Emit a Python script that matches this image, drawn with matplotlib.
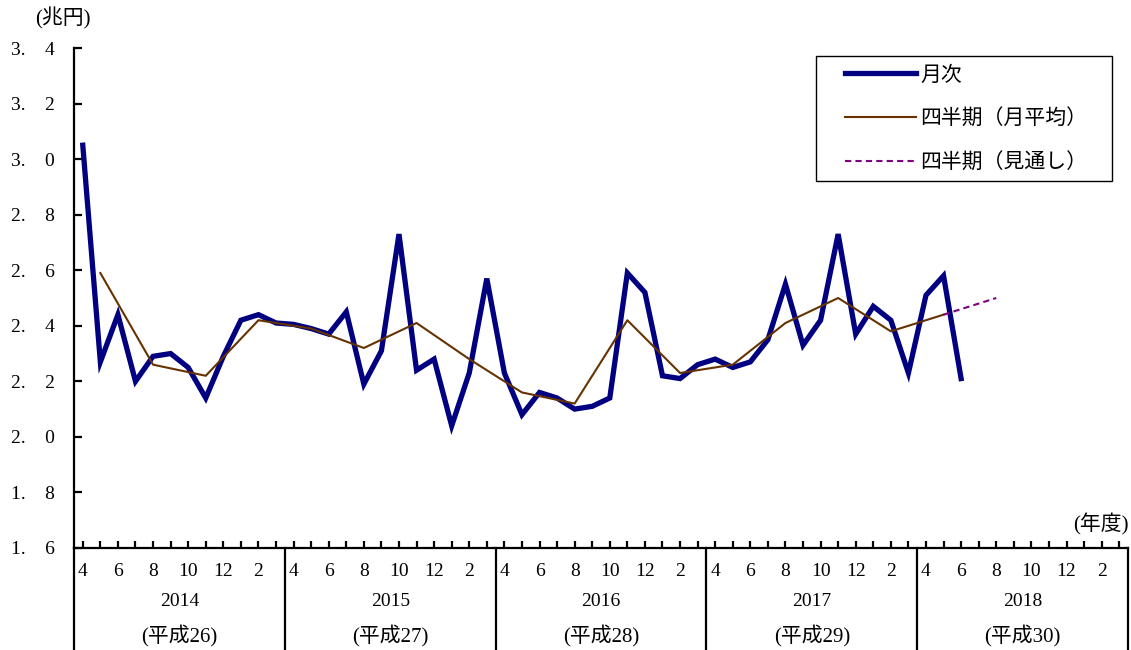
import matplotlib
matplotlib.use('Agg')
import matplotlib.pyplot as plt
import matplotlib.transforms as mtransforms
from matplotlib.patches import Rectangle

plt.rcParams['font.family'] = ['Liberation Serif', 'Noto Sans CJK JP']

# monthly values, fiscal 2014 April .. 2018 June (trillion yen)
monthly = [3.05, 2.27, 2.44, 2.20, 2.29, 2.30, 2.25, 2.14, 2.29, 2.42, 2.44, 2.41,
           2.405, 2.39, 2.37, 2.45, 2.19, 2.31, 2.73, 2.24, 2.28, 2.04, 2.23, 2.57,
           2.23, 2.08, 2.16, 2.14, 2.10, 2.11, 2.14, 2.59, 2.52, 2.22, 2.21, 2.26,
           2.28, 2.25, 2.27, 2.35, 2.55, 2.33, 2.42, 2.73, 2.37, 2.47, 2.42, 2.23,
           2.51, 2.58, 2.21]
# quarterly monthly-average, plotted at the middle month of each quarter
quarterly = [2.59, 2.26, 2.22, 2.42, 2.39, 2.32, 2.41, 2.28, 2.16, 2.12, 2.42,
             2.23, 2.26, 2.41, 2.50, 2.38, 2.44]
quarter_pos = [1, 4, 7, 10, 13, 16, 19, 22, 25, 28, 31, 34, 37, 40, 43, 46, 49]
# outlook
forecast = [2.44, 2.50]
forecast_pos = [49, 52]

month_ticks = ['4', '6', '8', '10', '12', '2']
fiscal_years = ['2014', '2015', '2016', '2017', '2018']
heisei = ['(平成26)', '(平成27)', '(平成28)', '(平成29)', '(平成30)']
y_ticks = [1.6, 1.8, 2.0, 2.2, 2.4, 2.6, 2.8, 3.0, 3.2, 3.4]

fig = plt.figure(figsize=(11.31, 6.5), dpi=100)
W, H = 1131, 650
ax = fig.add_axes([74 / W, (H - 548) / H, 1054 / W, 500 / H])

ax.plot(range(len(monthly)), monthly, color='#000080', lw=3.8,
        solid_joinstyle='miter', label='月次', zorder=3)
ax.plot(quarter_pos, quarterly, color='#663300', lw=1.5, label='四半期（月平均）', zorder=4)
ax.plot(forecast_pos, forecast, color='#800080', lw=1.5, ls=(0, (3, 2)),
        label='四半期（見通し）', zorder=4)

ax.set_xlim(-0.5, 59.5)
ax.set_ylim(1.6, 3.4)

for s in ['top', 'right']:
    ax.spines[s].set_visible(False)
ax.spines['left'].set_linewidth(1.6)
ax.spines['bottom'].set_linewidth(1.6)

ax.set_yticks(y_ticks)
ax.set_yticklabels([f'{v:.1f}'.replace('.', '.\u2002\u2002') for v in y_ticks], fontsize=14)
ax.tick_params(axis='y', direction='in', length=6, width=1.6, pad=14)
ax.set_xticks(range(60))
ax.set_xticklabels([])
ax.tick_params(axis='x', direction='in', length=5, width=1.6)

# table of month / year labels below the axis
trans = mtransforms.blended_transform_factory(ax.transData, ax.transAxes)
bottom = -(H - 548) / 500 - 0.01
for k in range(6):
    x = -0.5 + 12 * k
    ax.plot([x, x], [0, bottom], color='black', lw=1.6, transform=trans, clip_on=False)
for k, fy in enumerate(fiscal_years):
    for j, m in enumerate(month_ticks):
        ax.text(12 * k + 2 * j, -0.048, m, transform=trans, ha='center', va='center', fontsize=14)
    ax.text(12 * k + 5.5, -0.108, fy, transform=trans, ha='center', va='center', fontsize=14)
    ax.text(12 * k + 5.5, -0.176, heisei[k], transform=trans, ha='center', va='center', fontsize=15)

fig.text(35 / W, 1 - 18 / H, '(兆円)', ha='left', va='center', fontsize=15)
fig.text(1129 / W, 1 - 524 / H, '(年度)', ha='right', va='center', fontsize=15)

# legend box drawn separately so its padding can be set on each side
ax.add_patch(Rectangle((816 / W, 1 - 181 / H), 296 / W, 125 / H, transform=fig.transFigure,
                       facecolor='white', edgecolor='black', lw=1.0, zorder=5, clip_on=False))
leg = ax.legend(loc='upper left', bbox_to_anchor=(845 / W, 1 - 66 / H),
                bbox_transform=fig.transFigure, fontsize=15, frameon=False,
                handlelength=3.4, labelspacing=1.15, borderpad=0, handletextpad=0.2,
                borderaxespad=0)
leg.set_zorder(6)

fig.savefig('out.png', dpi=100)
